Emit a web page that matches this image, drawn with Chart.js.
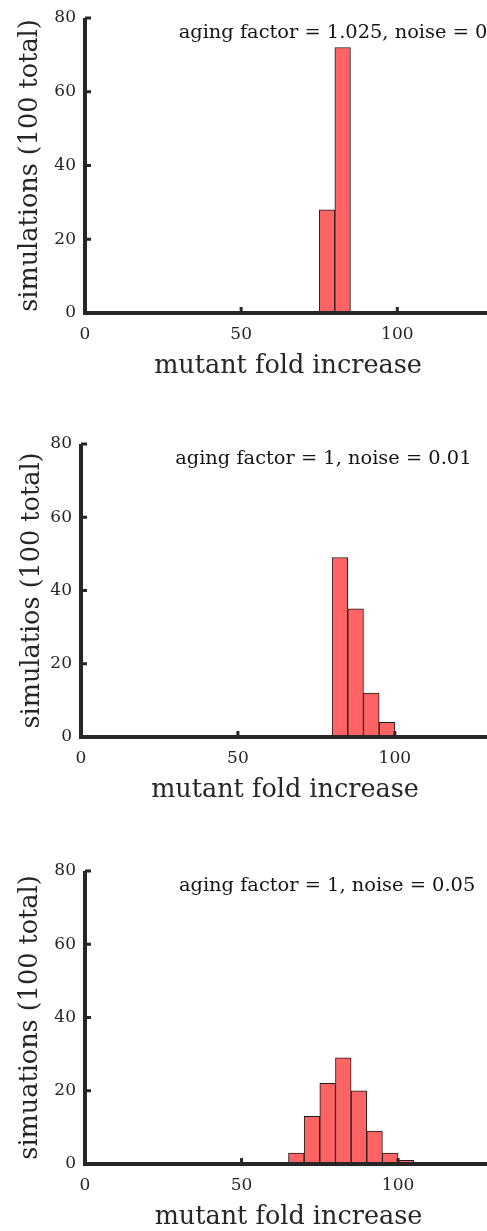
<!DOCTYPE html>
<html><head><meta charset="utf-8">
<script src="https://cdn.jsdelivr.net/npm/chart.js@4.4.0/dist/chart.umd.min.js"></script>
<style>
html,body{margin:0;padding:0;overflow:hidden;background:#fff;width:487px;height:1231px;position:relative;}
canvas{position:absolute;left:0;}
</style></head><body>
<canvas id="c1"></canvas><canvas id="c2"></canvas><canvas id="c3"></canvas>
<script>
// ---- data ----
const binWidth = 5;
const xTickValues = [0, 50, 100];
const yTickValues = [0, 20, 40, 60, 80];
const xAxisTitle = 'mutant fold increase';

const p1Label = 'aging factor = 1.025, noise = 0';
const p1YTitle = 'simulations (100 total)';
const p1BinStarts = [75, 80];
const p1Counts = [28, 72];

const p2Label = 'aging factor = 1, noise = 0.01';
const p2YTitle = 'simulatios (100 total)';
const p2BinStarts = [80, 85, 90, 95];
const p2Counts = [49, 35, 12, 4];

const p3Label = 'aging factor = 1, noise = 0.05';
const p3YTitle = 'simuations (100 total)';
const p3BinStarts = [65, 70, 75, 80, 85, 90, 95, 100];
const p3Counts = [3, 13, 22, 29, 20, 9, 3, 1];

// ---- styles ----
const SERIF = '"DejaVu Serif", serif';
const AXIS_COLOR = '#262626';
const BAR_FILL = 'rgb(255,99,99)';
const BAR_EDGE = '#1c1c1c';

const axesPlugin = {
  id: 'matlabAxes',
  afterDatasetsDraw(chart, args, o) {
    const ctx = chart.ctx, xs = chart.scales.x, ys = chart.scales.y, a = chart.chartArea;
    const y0 = ys.getPixelForValue(0), x0 = xs.getPixelForValue(0);
    ctx.save();
    ctx.strokeStyle = AXIS_COLOR;
    ctx.lineWidth = 4;
    ctx.beginPath(); ctx.moveTo(x0 - 2, y0); ctx.lineTo(a.right + 5, y0); ctx.stroke();
    ctx.beginPath(); ctx.moveTo(x0, y0 + 2); ctx.lineTo(x0, ys.getPixelForValue(80)); ctx.stroke();
    ctx.lineWidth = 3;
    xTickValues.forEach(v => { const px = xs.getPixelForValue(v); ctx.beginPath(); ctx.moveTo(px, y0); ctx.lineTo(px, y0 - 6); ctx.stroke(); });
    yTickValues.forEach(v => { const py = ys.getPixelForValue(v); ctx.beginPath(); ctx.moveTo(x0, py); ctx.lineTo(x0 + 6, py); ctx.stroke(); });
    ctx.fillStyle = '#141414';
    ctx.font = '19.4px ' + SERIF;
    ctx.textAlign = 'left';
    ctx.textBaseline = 'middle';
    ctx.fillText(o.text, xs.getPixelForValue(o.x), ys.getPixelForValue(o.y));
    ctx.restore();
  }
};

function makePanel(id, cfg) {
  const el = document.getElementById(id);
  el.width = cfg.width; el.height = cfg.height;
  el.style.width = cfg.width + 'px'; el.style.height = cfg.height + 'px';
  el.style.top = cfg.top + 'px';
  const data = cfg.starts.map((s, i) => ({ x: s + binWidth / 2, y: cfg.counts[i] }));
  return new Chart(el, {
    type: 'bar',
    data: { datasets: [{
      data,
      backgroundColor: BAR_FILL,
      borderColor: BAR_EDGE,
      borderWidth: 1,
      borderSkipped: false,
      barPercentage: 1,
      categoryPercentage: 1
    }] },
    options: {
      responsive: false,
      animation: false,
      events: [],
      layout: { padding: { top: cfg.areaTop, left: 0, right: 0, bottom: 0 } },
      plugins: {
        legend: { display: false },
        tooltip: { enabled: false },
        matlabAxes: { text: cfg.label, x: 30, y: 76 }
      },
      scales: {
        x: {
          type: 'linear', min: 0, max: 130, offset: false,
          grid: { display: false, drawTicks: false },
          border: { display: false },
          afterBuildTicks: s => { s.ticks = xTickValues.map(v => ({ value: v })); },
          ticks: { padding: 11, color: AXIS_COLOR, font: { family: SERIF, size: 17 }, maxRotation: 0, autoSkip: false },
          title: { display: true, text: xAxisTitle, color: AXIS_COLOR, font: { family: SERIF, size: 25.5 }, padding: { top: 0, bottom: 13 } },
          afterFit: s => { s.height = 82; s.paddingLeft = 0; s.paddingRight = 0; }
        },
        y: {
          type: 'linear', min: 0, max: 80,
          grid: { display: false, drawTicks: false },
          border: { display: false },
          afterBuildTicks: s => { s.ticks = yTickValues.map(v => ({ value: v })); },
          ticks: { padding: 9, color: AXIS_COLOR, font: { family: SERIF, size: 17 } },
          title: { display: true, text: cfg.yTitle, color: AXIS_COLOR, font: { family: SERIF, size: 25.5 }, padding: { top: cfg.yTitlePad, bottom: 0 } },
          afterFit: s => { s.width = cfg.yWidth; s.paddingTop = 0; s.paddingBottom = 0; }
        }
      }
    },
    plugins: [axesPlugin]
  });
}

makePanel('c1', { top: 0, width: 491, height: 395, areaTop: 18, yWidth: 85, yTitlePad: 14.7,
  label: p1Label, yTitle: p1YTitle, starts: p1BinStarts, counts: p1Counts });
makePanel('c2', { top: 426, width: 489, height: 393, areaTop: 18, yWidth: 81, yTitlePad: 17.2,
  label: p2Label, yTitle: p2YTitle, starts: p2BinStarts, counts: p2Counts });
makePanel('c3', { top: 853, width: 492, height: 393, areaTop: 18, yWidth: 85, yTitlePad: 15.2,
  label: p3Label, yTitle: p3YTitle, starts: p3BinStarts, counts: p3Counts });
</script>
</body></html>
